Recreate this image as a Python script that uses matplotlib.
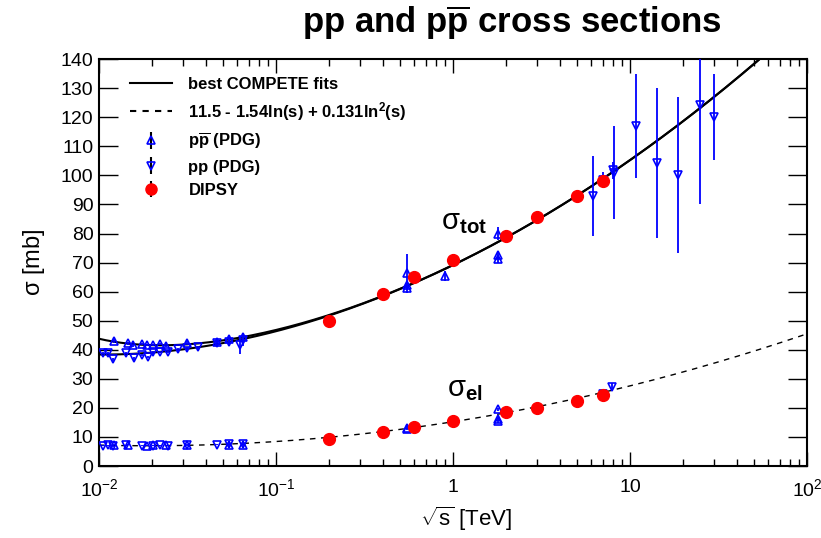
import numpy as np
import matplotlib
matplotlib.use('Agg')
import matplotlib.pyplot as plt
from matplotlib.ticker import FixedLocator, FixedFormatter, LogLocator, NullFormatter

plt.rcParams['font.family'] = ['Liberation Sans', 'DejaVu Sans']
plt.rcParams['mathtext.fontset'] = 'custom'
plt.rcParams['mathtext.rm'] = 'Liberation Sans'
plt.rcParams['mathtext.it'] = 'Liberation Sans:italic'
plt.rcParams['mathtext.bf'] = 'Liberation Sans:bold'

# DIPSY results, sqrt(s) in TeV
dipsy_x = [0.2, 0.4, 0.6, 1.0, 2.0, 3.0, 5.0, 7.0]
dipsy_tot = [49.9, 59.2, 65.0, 70.9, 79.3, 85.7, 92.9, 98.0]
dipsy_el = [9.2, 11.6, 13.4, 15.4, 18.6, 20.0, 22.5, 24.4]

# PDG pbar-p total
ppbar_tot_x = [0.0121, 0.0145, 0.0156, 0.0174, 0.0186, 0.0203, 0.0221, 0.0239,
               0.0315, 0.0463, 0.0545, 0.0649, 0.546, 0.546, 0.546, 0.9, 1.8, 1.8, 1.8]
ppbar_tot_y = [43.1, 42.2, 41.6, 42.0, 41.6, 41.6, 42.0, 41.3,
               42.4, 42.8, 43.6, 44.3, 61.3, 62.2, 66.3, 65.3, 71.1, 72.6, 80.0]
ppbar_tot_e = [0.6, 0.5, 0.5, 0.5, 0.4, 0.4, 0.4, 0.4,
               0.5, 0.6, 1.0, 1.5, 0.9, 1.5, 6.6, 1.8, 1.2, 1.5, 2.2]

# PDG pp total
pp_tot_x = [0.0106, 0.0113, 0.0120, 0.0142, 0.0158, 0.0174, 0.0190, 0.0201,
            0.0221, 0.0246, 0.0281, 0.0315, 0.0364, 0.0463, 0.0545, 0.0623, 0.0649,
            6.2, 7.0, 8.0, 8.1, 10.8, 14.2, 18.6, 24.7, 29.9]
pp_tot_y = [38.8, 38.8, 36.7, 38.8, 37.0, 38.2, 37.6, 39.1,
            39.3, 39.3, 40.1, 40.5, 40.8, 42.4, 42.8, 41.5, 43.3,
            93.0, 98.3, 101.7, 101.0, 117.0, 104.3, 100.1, 124.2, 120.2]
pp_tot_e = [0.4, 0.4, 0.5, 0.4, 0.5, 0.4, 0.4, 0.4,
            0.4, 0.4, 0.5, 0.5, 0.6, 0.8, 1.0, 3.0, 2.0,
            13.8, 2.8, 2.9, 16.0, 17.9, 25.9, 26.8, 34.0, 14.8]

# PDG elastic
ppbar_el_x = [0.0121, 0.0145, 0.0186, 0.0203, 0.0239, 0.0315, 0.0545, 0.0649,
              0.546, 0.546, 1.8, 1.8, 1.8]
ppbar_el_y = [7.3, 7.4, 7.0, 7.1, 7.1, 7.3, 7.3, 7.2,
              13.0, 12.8, 19.5, 16.1, 15.4]
ppbar_el_e = [0.2, 0.2, 0.2, 0.2, 0.2, 0.2, 0.3, 0.3,
              0.3, 0.3, 0.6, 0.5, 0.5]
pp_el_x = [0.0106, 0.0113, 0.0120, 0.0142, 0.0174, 0.0201, 0.0221, 0.0246,
           0.0315, 0.0463, 0.0545, 0.0649, 7.0, 7.9]
pp_el_y = [7.0, 7.2, 6.9, 7.1, 7.0, 7.0, 7.1, 7.0,
           7.2, 7.4, 7.6, 7.5, 24.8, 27.1]
pp_el_e = [0.2, 0.2, 0.2, 0.2, 0.2, 0.2, 0.2, 0.2,
           0.2, 0.3, 0.3, 0.3, 1.2, 1.4]

# COMPETE fit parameters (s in GeV^2)
Z, B, s0, s1 = 35.45, 0.308, 5.38**2, 1.0
Y1, Y2, eta1, eta2 = 42.53, 33.34, 0.458, 0.545
# elastic parametrisation from legend
a_el, b_el, c_el = 11.5, -1.54, 0.131

xs = np.logspace(-2, 2, 400)
s = (xs * 1000.0)**2
common = Z + B * np.log(s / s0)**2 + Y1 * (s1 / s)**eta1
fit_pp = common - Y2 * (s1 / s)**eta2
fit_ppbar = common + Y2 * (s1 / s)**eta2
fit_el = a_el + b_el * np.log(s) + c_el * np.log(s)**2

fig = plt.figure(figsize=(8.21, 5.38), dpi=100)
ax = fig.add_axes([0.1206, 0.1338, 0.8624, 0.7562])

ax.plot(xs, fit_pp, color='black', lw=1.5, zorder=2)
ax.plot(xs, fit_ppbar, color='black', lw=1.5, zorder=2)
ax.plot(xs, fit_el, color='black', lw=1.0, ls=(0, (4, 4)), zorder=2)

blue = '#0000ff'
kw = dict(ls='none', mfc='none', mec=blue, ecolor=blue, elinewidth=1.3,
          mew=1.2, ms=6, capsize=0, zorder=3)
ax.errorbar(ppbar_tot_x, ppbar_tot_y, yerr=ppbar_tot_e, marker='^', **kw)
ax.errorbar(ppbar_el_x, ppbar_el_y, yerr=ppbar_el_e, marker='^', **kw)
ax.errorbar(pp_tot_x, pp_tot_y, yerr=pp_tot_e, marker='v', **kw)
ax.errorbar(pp_el_x, pp_el_y, yerr=pp_el_e, marker='v', **kw)

ax.plot(dipsy_x, dipsy_tot, 'o', color='#ff0000', ms=8.5, mec='#ff0000', zorder=4)
ax.plot(dipsy_x, dipsy_el, 'o', color='#ff0000', ms=8.5, mec='#ff0000', zorder=4)

# legend proxies
h_fit, = ax.plot([], [], color='black', lw=1.5)
h_el, = ax.plot([], [], color='black', lw=1.5, ls=(0, (3, 3)))
h_pb = ax.errorbar([np.nan], [np.nan], yerr=[1], marker='^', ls='none', mfc='none',
                   mec=blue, mew=1.2, ms=6, ecolor='black', elinewidth=1.5)
h_p = ax.errorbar([np.nan], [np.nan], yerr=[1], marker='v', ls='none', mfc='none',
                  mec=blue, mew=1.2, ms=6, ecolor='black', elinewidth=1.5)
h_d = ax.errorbar([np.nan], [np.nan], yerr=[1], marker='o', ls='none', color='#ff0000',
                  ms=8, ecolor='black', elinewidth=1.5)
leg = ax.legend([h_fit, h_el, h_pb, h_p, h_d],
                ['best COMPETE fits',
                 r'11.5 - 1.54ln(s) + 0.131ln$^{\mathbf{2}}$(s)',
                 r'p$\mathbf{\overline{p}}$ (PDG)', 'pp (PDG)', 'DIPSY'],
                loc='upper left', frameon=False, prop={'weight': 'bold', 'size': 12},
                handlelength=2.5, labelspacing=0.5, borderaxespad=0.4,
                handletextpad=1.0, bbox_to_anchor=(0.025, 0.99))

ax.text(1.15, 84, r'$\mathrm{\sigma}_{\mathbf{tot}}$', fontsize=21, ha='center', va='center')
ax.text(1.17, 26.5, r'$\mathrm{\sigma}_{\mathbf{el}}$', fontsize=21, ha='center', va='center')

ax.set_xscale('log')
ax.set_xlim(0.01, 100)
ax.set_ylim(0, 140)
ax.xaxis.set_major_locator(FixedLocator([0.01, 0.1, 1, 10, 100]))
ax.xaxis.set_major_formatter(FixedFormatter([r'$10^{-2}$', r'$10^{-1}$', '1', '10', r'$10^{2}$']))
ax.xaxis.set_minor_locator(LogLocator(base=10, subs=np.arange(2, 10)))
ax.xaxis.set_minor_formatter(NullFormatter())
ax.set_yticks(np.arange(0, 141, 10))

ax.tick_params(which='both', direction='in', top=True, right=True, width=1.0, labelsize=14)
ax.tick_params(axis='x', which='major', length=10, pad=9)
ax.tick_params(axis='x', which='minor', length=5)
ax.tick_params(axis='y', which='major', length=14, pad=4)
for sp in ax.spines.values():
    sp.set_linewidth(1.5)

ax.set_ylabel(r'$\mathrm{\sigma}$ [mb]', fontsize=17, labelpad=10)
fig.text(0.568, 0.036, r'$\sqrt{\mathrm{s}}$ [TeV]', fontsize=16, ha='center', va='center')
fig.text(0.624, 0.957, r'pp and p$\mathbf{\overline{p}}$ cross sections',
         fontsize=25, weight='bold', ha='center', va='center')

fig.savefig('out.png', dpi=100)
